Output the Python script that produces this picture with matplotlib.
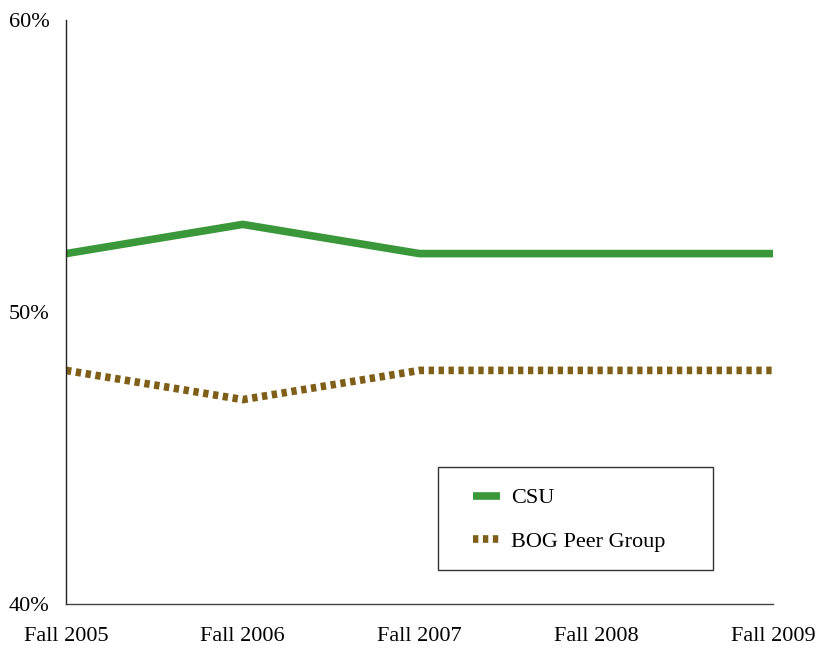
import matplotlib
matplotlib.use("Agg")
import matplotlib.pyplot as plt
from matplotlib.ticker import FuncFormatter
from matplotlib.patches import Rectangle

categories = ["Fall 2005", "Fall 2006", "Fall 2007", "Fall 2008", "Fall 2009"]
csu = [52, 53, 52, 52, 52]
bog = [48, 47, 48, 48, 48]
yticks = [40, 50, 60]

plt.rcParams['font.family'] = ['Liberation Serif', 'DejaVu Serif']

fig = plt.figure(figsize=(8.17, 6.49), dpi=100)
ax = fig.add_axes([66/817, 1-604/649, (773-66)/817, (604-20)/649])

x = list(range(len(categories)))
ax.plot(x, csu, color="#3a983a", lw=5.5, solid_capstyle='butt', label="CSU")
ax.plot(x, bog, color="#7f5f18", lw=5.5, linestyle=(0, (0.7, 0.6)),
        dash_capstyle='butt', label="BOG Peer Group")

ax.set_xlim(0, len(categories)-1)
ax.set_ylim(40, 60)
ax.set_xticks(x)
ax.set_xticklabels(categories, fontsize=16)
ax.set_yticks(yticks)
ax.yaxis.set_major_formatter(FuncFormatter(lambda v, p: f"{int(v)}%"))
ax.tick_params(axis='both', length=0, labelsize=16)
ax.tick_params(axis='x', pad=16.5)
ax.tick_params(axis='y', pad=12)

ax.spines['top'].set_visible(False)
ax.spines['right'].set_visible(False)
ax.spines['left'].set_color('#222222')
ax.spines['bottom'].set_color('#444444')
ax.spines['left'].set_linewidth(1)
ax.spines['bottom'].set_linewidth(1)

# legend frame
ax.add_patch(Rectangle(((438-66)/707, (604-570)/584), (713-438)/707, (570-467)/584,
                       transform=ax.transAxes, facecolor='white', edgecolor='#333333',
                       linewidth=1, clip_on=False, zorder=4))
leg = ax.legend(loc='center left', bbox_to_anchor=((473-66)/707, (604-520)/584),
                fontsize=16, frameon=False, handlelength=1.2, labelspacing=1.05,
                borderpad=0, handletextpad=0.5, borderaxespad=0)
leg.set_zorder(5)

fig.savefig("out.png", dpi=100)
